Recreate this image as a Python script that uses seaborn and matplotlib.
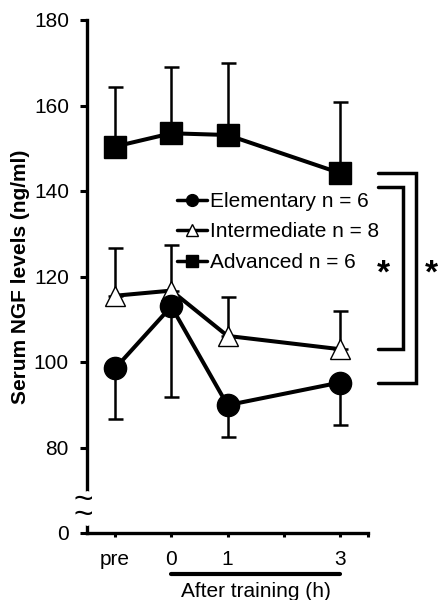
import numpy as np
import pandas as pd
import matplotlib
matplotlib.use("Agg")
import matplotlib.pyplot as plt
from matplotlib.lines import Line2D
import seaborn as sns

# valores
tiempos = [-1, 0, 1, 3]
tick_pos = [-1, 0, 1, 2, 3, 3.5]
tick_txt = ["pre", "0", "1", "", "3", ""]
ytick_pos = [60, 80, 100, 120, 140, 160, 180]
ytick_txt = ["0", "80", "100", "120", "140", "160", "180"]

elemental = [98.5, 113.0, 89.9, 95.2]
elemental_sd = [11.9, 21.1, 7.4, 10.0]
intermedio = [115.5, 116.7, 106.1, 103.0]
intermedio_sd = [11.1, 10.7, 9.1, 9.0]
avanzado = [150.4, 153.5, 153.1, 144.2]
avanzado_sd = [13.9, 15.4, 16.8, 16.7]

etiquetas = ["Elementary n = 6", "Intermediate n = 8", "Advanced n = 6"]

sns.set_style("ticks")
plt.rcParams["font.family"] = ["Liberation Sans", "DejaVu Sans"]
for k in ["text.color", "axes.labelcolor", "xtick.color", "ytick.color", "axes.edgecolor"]:
    plt.rcParams[k] = "black"

fig = plt.figure(figsize=(4.38, 6), dpi=100)
ax = fig.add_axes([87 / 438, 67 / 600, 281 / 438, 513 / 600])

grupos = [
    (avanzado, avanzado_sd, "s", "black", 16, "up"),
    (intermedio, intermedio_sd, "^", "white", 14.5, "up"),
    (elemental, elemental_sd, "o", "black", 16, "down"),
]

for medias, sd, marca, relleno, tam, lado in grupos:
    cero = np.zeros(len(sd))
    yerr = [cero, sd] if lado == "up" else [sd, cero]
    ax.errorbar(tiempos, medias, yerr=yerr, fmt="none", ecolor="black",
                elinewidth=1.8, capsize=5.4, capthick=1.8, zorder=2)
    df = pd.DataFrame({"t": tiempos, "v": medias})
    sns.lineplot(data=df, x="t", y="v", ax=ax, color="black", lw=2.9,
                 marker=marca, markersize=tam, markerfacecolor=relleno,
                 markeredgecolor="black", markeredgewidth=1.0, zorder=3)

ax.set_xlim(-1.5, 3.5)
ax.set_ylim(60, 180)
ax.set_xticks(tick_pos)
ax.set_xticklabels(tick_txt)
ax.set_yticks(ytick_pos)
ax.set_yticklabels(ytick_txt)
ax.set_xlabel("")
ax.set_ylabel("Serum NGF levels (ng/ml)", fontsize=15, fontweight="bold", labelpad=3)
ax.tick_params(axis="y", length=5, width=2.2, labelsize=15, pad=8)
ax.tick_params(axis="x", length=3, width=2.2, labelsize=15, pad=9)
for s in ["top", "right"]:
    ax.spines[s].set_visible(False)
for s in ["left", "bottom"]:
    ax.spines[s].set_linewidth(2.4)

# corte del eje y
ytrans = ax.get_yaxis_transform()
ax.plot([0, 0], [62.6, 69.1], color="white", lw=5, transform=ytrans,
        clip_on=False, zorder=5)
ax.text(-0.014, 65.8, "~\n~", transform=ytrans, ha="center", va="center",
        fontsize=24, linespacing=0.35, zorder=6, clip_on=False)

# etiqueta del eje x con linea
xtrans = ax.get_xaxis_transform()
ax.plot([0, 3], [-0.08, -0.08], color="black", lw=3, transform=xtrans, clip_on=False)
ax.text(1.5, -0.115, "After training (h)", transform=xtrans, ha="center",
        va="center", fontsize=15)

# corchetes de significancia
def corchete(x0, x1, y_top, y_bot):
    ax.plot([x0, x1, x1, x0], [y_top, y_top, y_bot, y_bot], color="black",
            lw=2.5, clip_on=False, solid_joinstyle="miter")

corchete(3.67, 4.35, avanzado[3], elemental[3])
corchete(3.67, 4.13, avanzado[3] - 3.2, intermedio[3])
ax.text(3.78, 120.5, "*", fontsize=24, fontweight="bold", ha="center", va="center")
ax.text(4.62, 120.5, "*", fontsize=24, fontweight="bold", ha="center", va="center",
        clip_on=False)

handles = [
    Line2D([], [], color="black", lw=2.5, marker="o", markersize=8.5,
           markerfacecolor="black", markeredgecolor="black"),
    Line2D([], [], color="black", lw=2.5, marker="^", markersize=8.5,
           markerfacecolor="white", markeredgecolor="black"),
    Line2D([], [], color="black", lw=2.5, marker="s", markersize=8.5,
           markerfacecolor="black", markeredgecolor="black"),
]
ax.legend(handles, etiquetas, loc="upper left", bbox_to_anchor=(177 / 438, 1 - 192 / 600),
          bbox_transform=fig.transFigure, frameon=False, fontsize=15,
          handlelength=1.45, handletextpad=0.15, labelspacing=0.55,
          borderpad=0, borderaxespad=0)

fig.savefig("out.png", dpi=100)
